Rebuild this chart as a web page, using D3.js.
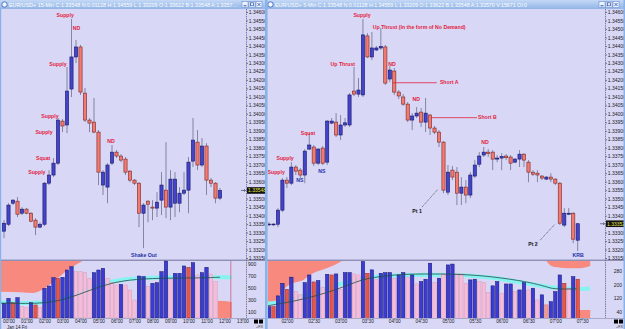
<!DOCTYPE html>
<html>
<head>
<meta charset="utf-8">
<title>EUR/USD 15-Min / 5-Min</title>
<script src="https://cdn.jsdelivr.net/npm/d3@7/dist/d3.min.js"></script>
<style>
  body { margin: 0; background: #d8d8f6; }
  svg { display: block; font-family: "Liberation Sans", Arial, sans-serif; }
</style>
</head>
<body>
<div id="chart"></div>
<script>
// ---------- fenêtre gauche : EUR/USD+ 15 min ----------
var leftTitle = "EUR/USD+ 15-Min C:1.33548 N:0.01128 H:1.34559 L:1.33209 O:1.33622 B:1.33548 A:1.3357...";
var leftOpen = [1.33308, 1.33349, 1.33473, 1.33485, 1.33414, 1.33438, 1.33414, 1.33373, 1.33332, 1.33349,
  1.33591, 1.33639, 1.33709, 1.33957, 1.33934, 1.34146, 1.34335, 1.34394, 1.34122, 1.33963,
  1.33951, 1.33892, 1.33580, 1.33568, 1.33709, 1.33774, 1.33751, 1.33733, 1.33662, 1.33609,
  1.33591, 1.33414, 1.33485, 1.33450, 1.33444, 1.33491, 1.33550, 1.33450, 1.33473, 1.33473,
  1.33532, 1.33550, 1.33721, 1.33833, 1.33698, 1.33810, 1.33609, 1.33591, 1.33503];
var leftHigh = [1.33373, 1.33473, 1.33497, 1.33509, 1.33450, 1.33444, 1.33420, 1.33385, 1.33361, 1.33597,
  1.33668, 1.33739, 1.33975, 1.33969, 1.34276, 1.34559, 1.34435, 1.34406, 1.34152, 1.33975,
  1.34093, 1.33904, 1.33668, 1.33709, 1.33816, 1.33786, 1.33762, 1.33745, 1.33668, 1.33615,
  1.33597, 1.33473, 1.33491, 1.33491, 1.33538, 1.33656, 1.33833, 1.33668, 1.33656, 1.33568,
  1.33656, 1.33745, 1.33975, 1.33904, 1.33857, 1.33827, 1.33621, 1.33597, 1.33562];
var leftLow = [1.33267, 1.33338, 1.33462, 1.33391, 1.33403, 1.33408, 1.33361, 1.33285, 1.33326, 1.33338,
  1.33580, 1.33627, 1.33698, 1.33892, 1.33886, 1.34099, 1.34299, 1.34111, 1.33951, 1.33892,
  1.33886, 1.33580, 1.33521, 1.33473, 1.33698, 1.33739, 1.33715, 1.33639, 1.33597, 1.33580,
  1.33332, 1.33208, 1.33361, 1.33373, 1.33391, 1.33403, 1.33385, 1.33373, 1.33391, 1.33420,
  1.33521, 1.33414, 1.33686, 1.33668, 1.33686, 1.33521, 1.33568, 1.33473, 1.33491];
var leftClose = [1.33355, 1.33462, 1.33491, 1.33408, 1.33438, 1.33414, 1.33367, 1.33332, 1.33349, 1.33591,
  1.33639, 1.33709, 1.33963, 1.33928, 1.34134, 1.34335, 1.34394, 1.34128, 1.33963, 1.33945,
  1.33892, 1.33656, 1.33656, 1.33698, 1.33774, 1.33751, 1.33727, 1.33656, 1.33609, 1.33591,
  1.33414, 1.33462, 1.33467, 1.33444, 1.33479, 1.33580, 1.33450, 1.33615, 1.33615, 1.33532,
  1.33550, 1.33715, 1.33845, 1.33698, 1.33810, 1.33609, 1.33591, 1.33503, 1.33548];
var leftVol = [245, 328, 255, 338, 188, 178, 255, 217, 178, 495, 533, 672, 661, 678, 800, 855,
  772, 772, 755, 661, 755, 800, 828, 661, 588, 550, 561, 550, 467, 300, 700, 689,
  522, 578, 588, 772, 950, 645, 745, 745, 867, 845, 922, 717, 755, 845, 733, 605];
// b = bleu (hausse), p = rose, r = rouge
var leftVolType = ("bbrbppbrpb" + "bbrbbbpppp" + "bbbpppbppp" + "bbpbbbbpbb" + "brbpbbpp").split("");
var leftVolTicks = [100, 300, 500, 700, 900];
var leftTimeLabels = ["00:00", "01:00", "02:00", "03:00", "04:00", "05:00", "06:00",
  "07:00", "08:00", "09:00", "10:00", "11:00", "12:00", "13:00"];
// indicateurs du panneau volume : [barre, valeur]
var leftSalmonTop = [[-1.5, 440], [3.6, 430], [6.5, 418], [8.7, 478], [11, 605], [14, 790], [17.4, 950]];
var leftSalmonLow = [[47.5, 288], [49, 282], [50.6, 268]];
var leftCyan = [[-1.5, 258], [4, 252], [8.7, 245], [14, 340], [19, 480], [23.7, 620], [29, 665], [37, 680], [44, 685], [50.6, 678]];
var leftAvg = [[-1.5, 250], [8.7, 233], [14, 316], [19.2, 467], [23.7, 583], [29, 650], [37, 667], [44, 667], [48, 680]];
var leftNotes = [
  { t: "Supply", i: 13.6, p: 1.34582, c: "r" },
  { t: "ND", i: 16.1, p: 1.34506, c: "r" },
  { t: "Supply", i: 12.0, p: 1.34294, c: "r" },
  { t: "Supply", i: 10.2, p: 1.33987, c: "r" },
  { t: "Supply", i: 8.9, p: 1.33892, c: "r" },
  { t: "Squat", i: 8.7, p: 1.33739, c: "r" },
  { t: "Supply", i: 7.3, p: 1.33656, c: "r" },
  { t: "ND", i: 23.8, p: 1.33839, c: "r" },
  { t: "Shake Out", i: 31.1, p: 1.33167, c: "b" }
];

// ---------- fenêtre droite : EUR/USD+ 5 min ----------
var rightTitle = "EUR/USD+ 5-Min C:1.33548 N:0.01128 H:1.34559 L:1.33209 O:1.33622 B:1.33548 A:1.33570 V:15671 OI:0";
var rightOpen = [1.33349, 1.33349, 1.33349, 1.33432, 1.33609, 1.33591, 1.33686, 1.33668, 1.33639, 1.33792,
  1.33804, 1.33709, 1.33798, 1.33715, 1.33945, 1.33951, 1.33875, 1.33934, 1.33934, 1.34134,
  1.34116, 1.34111, 1.34459, 1.34335, 1.34376, 1.34388, 1.34394, 1.34205, 1.34252, 1.34128,
  1.34099, 1.34057, 1.33963, 1.33987, 1.34010, 1.33951, 1.33993, 1.33916, 1.33892, 1.33833,
  1.33538, 1.33668, 1.33656, 1.33532, 1.33568, 1.33521, 1.33633, 1.33703, 1.33757, 1.33774,
  1.33774, 1.33733, 1.33739, 1.33751, 1.33745, 1.33715, 1.33733, 1.33762, 1.33715, 1.33656,
  1.33650, 1.33633, 1.33615, 1.33627, 1.33615, 1.33591, 1.33344, 1.33408, 1.33414, 1.33255];
var rightHigh = [1.33361, 1.33355, 1.33444, 1.33621, 1.33627, 1.33715, 1.33698, 1.33680, 1.33792, 1.33886,
  1.33816, 1.33798, 1.33810, 1.33963, 1.33975, 1.34004, 1.33993, 1.33975, 1.34122, 1.34276,
  1.34211, 1.34559, 1.34476, 1.34482, 1.34400, 1.34506, 1.34406, 1.34282, 1.34270, 1.34140,
  1.34116, 1.34069, 1.34004, 1.34040, 1.34034, 1.34093, 1.33998, 1.33928, 1.33904, 1.33839,
  1.33698, 1.33692, 1.33686, 1.33627, 1.33609, 1.33656, 1.33727, 1.33774, 1.33804, 1.33792,
  1.33786, 1.33757, 1.33768, 1.33762, 1.33757, 1.33739, 1.33786, 1.33768, 1.33727, 1.33668,
  1.33668, 1.33639, 1.33633, 1.33650, 1.33621, 1.33597, 1.33444, 1.33444, 1.33420, 1.33355];
var rightLow = [1.33338, 1.33338, 1.33332, 1.33420, 1.33562, 1.33580, 1.33639, 1.33621, 1.33591, 1.33786,
  1.33692, 1.33698, 1.33698, 1.33698, 1.33939, 1.33863, 1.33845, 1.33922, 1.33922, 1.34105,
  1.34099, 1.34099, 1.34329, 1.34317, 1.34370, 1.34376, 1.34170, 1.34187, 1.34111, 1.34087,
  1.34046, 1.33951, 1.33904, 1.33975, 1.33922, 1.33892, 1.33875, 1.33880, 1.33804, 1.33532,
  1.33521, 1.33609, 1.33462, 1.33462, 1.33473, 1.33503, 1.33621, 1.33686, 1.33745, 1.33745,
  1.33668, 1.33715, 1.33668, 1.33727, 1.33668, 1.33709, 1.33686, 1.33686, 1.33597, 1.33633,
  1.33597, 1.33609, 1.33609, 1.33597, 1.33580, 1.33344, 1.33332, 1.33403, 1.33237, 1.33190];
var rightClose = [1.33350, 1.33350, 1.33432, 1.33609, 1.33591, 1.33686, 1.33662, 1.33639, 1.33780, 1.33816,
  1.33709, 1.33792, 1.33709, 1.33957, 1.33957, 1.33875, 1.33934, 1.33947, 1.34111, 1.34116,
  1.34140, 1.34465, 1.34335, 1.34388, 1.34388, 1.34396, 1.34181, 1.34258, 1.34128, 1.34105,
  1.34057, 1.33963, 1.33987, 1.34004, 1.33951, 1.34004, 1.33916, 1.33892, 1.33833, 1.33550,
  1.33656, 1.33627, 1.33532, 1.33568, 1.33521, 1.33639, 1.33698, 1.33751, 1.33774, 1.33765,
  1.33733, 1.33739, 1.33748, 1.33741, 1.33709, 1.33733, 1.33762, 1.33727, 1.33656, 1.33644,
  1.33639, 1.33621, 1.33627, 1.33615, 1.33591, 1.33355, 1.33414, 1.33414, 1.33261, 1.33352];
var rightVol = [70, 70, 133, 207, 172, 243, 158, 139, 211, 256, 215, 223, 184, 260, 256, 262, 172, 270,
  270, 262, 256, 335, 266, 286, 231, 266, 270, 270, 237, 256, 270, 243, 256, 203, 217, 231,
  325, 211, 237, 262, 315, 320, 262, 262, 207, 227, 231, 217, 211, 152, 192, 217, 149, 203,
  203, 158, 168, 211, 168, 178, 109, 139, 80, 99, 158, 256, 207, 178, 246, 231];
// s = saumon
var rightVolType = ("brbbrbppbb" + "rbpbrbpbbp" + "pbrbpbbbpb" + "bpbpbbbpbp" +
  "bbpppbbppp" + "bbpbbpbbpb" + "pbsbbbrpbr").split("");
var rightVolTicks = [40, 120, 200, 280];
var rightTimeLabels = ["02:00", "02:30", "03:00", "03:30", "04:00", "04:30",
  "05:00", "05:30", "06:00", "06:30", "07:00", "07:30"];
var rightSalmonTop = [[-0.5, 88], [1.7, 109], [3.2, 168], [5.4, 208], [7.7, 227], [9.2, 256], [10.7, 276], [12.9, 296], [15.1, 321], [16.3, 338]];
var rightSalmonTop2 = [[62.0, 338], [62.8, 315], [64, 302], [66.5, 296], [69.5, 296], [71.8, 309]];
var rightSalmonLow = [[69.3, 50], [71.8, 50]];
var rightCyan = [[-0.5, 88], [2, 92], [8, 130], [14, 190], [20, 235], [26.3, 256], [44.2, 258], [50.1, 240], [57.6, 208], [63.5, 178], [69.5, 172], [71.8, 178]];
var rightAvg = [[-0.5, 74], [5.4, 99], [12.9, 149], [18.8, 208], [21.8, 237], [27.8, 256], [31.5, 262], [42.7, 262], [50.1, 246], [57.6, 217], [62.1, 187], [63.5, 172], [68.7, 174]];
var rightNotes = [
  { t: "Supply", i: 20.8, p: 1.34582, c: "r" },
  { t: "Up Thrust (In the form of No Demand)", i: 23.2, p: 1.34512, c: "r", a: "start" },
  { t: "Up Thrust", i: 16.5, p: 1.34294, c: "r" },
  { t: "ND", i: 27.5, p: 1.34294, c: "r" },
  { t: "Short A", i: 38.2, p: 1.34187, c: "r", a: "start" },
  { t: "ND", i: 32.9, p: 1.34087, c: "r" },
  { t: "Short B", i: 46.7, p: 1.33981, c: "r", a: "start" },
  { t: "Squat", i: 8.7, p: 1.33886, c: "r" },
  { t: "Supply", i: 3.6, p: 1.33739, c: "r" },
  { t: "Supply", i: 1.6, p: 1.33656, c: "r" },
  { t: "NS", i: 6.9, p: 1.33609, c: "b" },
  { t: "NS", i: 11.8, p: 1.33662, c: "b" },
  { t: "ND", i: 48.3, p: 1.33833, c: "r" },
  { t: "Pt 1", i: 33.1, p: 1.33427, c: "k" },
  { t: "Pt 2", i: 59.0, p: 1.33232, c: "k" },
  { t: "KRB", i: 69.1, p: 1.33167, c: "b" }
];
// lignes Short A / Short B et pointillés Pt 1 / Pt 2
var rightLevels = [{ i0: 27.7, i1: 37.5, p: 1.34183 }, { i0: 36.2, i1: 46.5, p: 1.33977 }];
var rightPointers = [{ i0: 34.2, p0: 1.3345, i1: 37.8, p1: 1.33556 }, { i0: 60.6, p0: 1.33255, i1: 63.9, p1: 1.33349 }];

// ---------- couleurs ----------
var bg = "#d8d8f6";
var upFill = "#4444ca", upLine = "#16166a";
var dnFill = "#f27a70", dnLine = "#7a2626";
var wickCol = "#6e6e8e";
var volFill = { b: "#3c3cd2", p: "#f6bcd9", r: "#e8564a", s: "#f39a90" };
var volLine = { b: "#141470", p: "#d69cba", r: "#9a2a2a", s: "#d07474" };
var salmon = "#f7897f", cyan = "#86f3f0", avgCol = "#244a4a";
var noteCol = { r: "#e3203e", b: "#2430a8", k: "#101018" };

var svg = d3.select("#chart").append("svg").attr("width", 625).attr("height", 329);

var grad = svg.append("defs").append("linearGradient").attr("id", "titleGrad")
  .attr("x1", 0).attr("y1", 0).attr("x2", 0).attr("y2", 1);
grad.append("stop").attr("offset", "0%").attr("stop-color", "#c4d9f6");
grad.append("stop").attr("offset", "100%").attr("stop-color", "#92b4e6");

var yPrice = d3.scaleLinear().domain([1.3315, 1.346]).range([258, 12]);
var priceTicks = d3.range(0, 30).map(function (k) { return 1.3315 + k * 0.0005; });
var fmtPrice = d3.format(".5f");

var windows = [
  {
    id: "l", x0: 0, x1: 265, plotX0: 1, plotX1: 246, axisX: 246, title: leftTitle, titleLen: 228, btnX: 242,
    x: d3.scaleLinear().domain([0, 48]).range([4, 220]),
    o: leftOpen, h: leftHigh, l: leftLow, c: leftClose,
    vol: leftVol, volType: leftVolType, volTicks: leftVolTicks, volAnchor: "start", volDx: 2,
    volY: d3.scaleLinear().domain([0, 950]).range([318, 261]),
    timeLabels: leftTimeLabels, timeIdx: leftTimeLabels.map(function (d, k) { return 1 + 4 * k; }),
    salmonTop: [leftSalmonTop], salmonLow: leftSalmonLow, cyan: leftCyan, avg: leftAvg,
    notes: leftNotes, levels: [], pointers: [], last: 1.33548, marker: 50.4, date: "Jan 14 Fri"
  },
  {
    id: "r", x0: 266, x1: 625, plotX0: 268, plotX1: 605, axisX: 605, title: rightTitle, titleLen: 252, btnX: 599,
    x: d3.scaleLinear().domain([0, 69]).range([269, 577.7]),
    o: rightOpen, h: rightHigh, l: rightLow, c: rightClose,
    vol: rightVol, volType: rightVolType, volTicks: rightVolTicks, volAnchor: "end", volDx: 17,
    volY: d3.scaleLinear().domain([0, 338]).range([318.5, 261]),
    timeLabels: rightTimeLabels, timeIdx: rightTimeLabels.map(function (d, k) { return 4 + 6 * k; }),
    salmonTop: [rightSalmonTop, rightSalmonTop2], salmonLow: rightSalmonLow, cyan: rightCyan, avg: rightAvg,
    notes: rightNotes, levels: rightLevels, pointers: rightPointers, last: 1.33352, marker: null, date: null
  }
];

windows.forEach(function (w) {
  var g = svg.append("g");
  var x = w.x, vy = w.volY;

  // fond
  g.append("rect").attr("x", w.x0).attr("y", 0).attr("width", w.x1 - w.x0).attr("height", 329).attr("fill", bg);

  // barre de titre
  g.append("rect").attr("x", w.x0).attr("y", 0).attr("width", w.x1 - w.x0).attr("height", 9).attr("fill", "url(#titleGrad)");
  g.append("circle").attr("cx", w.x0 + 4.5).attr("cy", 4.5).attr("r", 2.7)
    .attr("fill", "#f4f8ff").attr("stroke", "#3a64b8").attr("stroke-width", 0.9);
  g.append("text").attr("x", w.x0 + 9).attr("y", 6.7).attr("font-size", 5.2).attr("fill", "#ffffff")
    .attr("textLength", w.titleLen).attr("lengthAdjust", "spacingAndGlyphs").text(w.title);
  [0, 1, 2].forEach(function (k) {
    var bx = w.btnX + k * 7;
    g.append("rect").attr("x", bx).attr("y", 1.5).attr("width", 6).attr("height", 6)
      .attr("fill", "#eaf2fe").attr("stroke", "#5a80c8").attr("stroke-width", 0.5);
    if (k == 0) g.append("line").attr("x1", bx + 1.5).attr("x2", bx + 4.5).attr("y1", 5.8).attr("y2", 5.8).attr("stroke", "#3050a0").attr("stroke-width", 1);
    if (k == 1) g.append("rect").attr("x", bx + 1.5).attr("y", 2.8).attr("width", 3).attr("height", 3).attr("fill", "none").attr("stroke", "#3050a0").attr("stroke-width", 0.7);
    if (k == 2) g.append("path").attr("d", "M" + (bx + 1.5) + ",3 l3,3 M" + (bx + 4.5) + ",3 l-3,3").attr("stroke", "#3050a0").attr("stroke-width", 0.8);
  });

  // zone de tracé (clip)
  var clipId = "clip-" + w.id;
  svg.append("clipPath").attr("id", clipId).append("rect")
    .attr("x", w.plotX0).attr("y", 9).attr("width", w.plotX1 - w.plotX0).attr("height", 309);
  var plot = g.append("g").attr("clip-path", "url(#" + clipId + ")");

  // ---- panneau volume ----
  var topY = vy.range()[1];
  w.salmonTop.forEach(function (pts) {
    plot.append("path")
      .attr("d", d3.area().x(function (d) { return x(d[0]); }).y0(topY).y1(function (d) { return vy(d[1]); }).curve(d3.curveMonotoneX)(pts))
      .attr("fill", salmon);
  });
  plot.append("path")
    .attr("d", d3.area().x(function (d) { return x(d[0]); }).y0(vy(0)).y1(function (d) { return vy(d[1]); }).curve(d3.curveMonotoneX)(w.salmonLow))
    .attr("fill", salmon);
  plot.append("path")
    .attr("d", d3.line().x(function (d) { return x(d[0]); }).y(function (d) { return vy(d[1]); }).curve(d3.curveBasis)(w.cyan))
    .attr("fill", "none").attr("stroke", cyan).attr("stroke-width", 4);

  plot.selectAll(".vol").data(w.vol).enter().append("rect")
    .attr("x", function (d, i) { return x(i) - 1.7; })
    .attr("width", 3.4)
    .attr("y", function (d) { return vy(d); })
    .attr("height", function (d) { return vy(0) - vy(d); })
    .attr("fill", function (d, i) { return volFill[w.volType[i]]; })
    .attr("stroke", function (d, i) { return volLine[w.volType[i]]; })
    .attr("stroke-width", 0.5);

  plot.append("path")
    .attr("d", d3.line().x(function (d) { return x(d[0]); }).y(function (d) { return vy(d[1]); }).curve(d3.curveBasis)(w.avg))
    .attr("fill", "none").attr("stroke", avgCol).attr("stroke-width", 0.8);

  if (w.marker != null) {
    plot.append("line").attr("x1", x(w.marker)).attr("x2", x(w.marker)).attr("y1", 261).attr("y2", 318)
      .attr("stroke", "#c0506a").attr("stroke-width", 0.7);
  }

  // ---- bougies ----
  var idx = d3.range(w.o.length);
  plot.selectAll(".wick").data(idx).enter().append("line")
    .attr("x1", function (i) { return x(i); }).attr("x2", function (i) { return x(i); })
    .attr("y1", function (i) { return yPrice(w.h[i]); }).attr("y2", function (i) { return yPrice(w.l[i]); })
    .attr("stroke", wickCol).attr("stroke-width", 0.8);
  plot.selectAll(".body").data(idx).enter().append("rect")
    .attr("x", function (i) { return x(i) - 1.6; })
    .attr("width", 3.2)
    .attr("y", function (i) { return yPrice(Math.max(w.o[i], w.c[i])); })
    .attr("height", function (i) { return Math.max(0.8, Math.abs(yPrice(w.o[i]) - yPrice(w.c[i]))); })
    .attr("fill", function (i) { return w.c[i] >= w.o[i] ? upFill : dnFill; })
    .attr("stroke", function (i) { return w.c[i] >= w.o[i] ? upLine : dnLine; })
    .attr("stroke-width", 0.6);

  // lignes d'annotation
  w.levels.forEach(function (lv) {
    plot.append("line").attr("x1", x(lv.i0)).attr("x2", x(lv.i1)).attr("y1", yPrice(lv.p)).attr("y2", yPrice(lv.p))
      .attr("stroke", noteCol.r).attr("stroke-width", 0.8);
  });
  w.pointers.forEach(function (pt) {
    plot.append("line").attr("x1", x(pt.i0)).attr("x2", x(pt.i1)).attr("y1", yPrice(pt.p0)).attr("y2", yPrice(pt.p1))
      .attr("stroke", "#202030").attr("stroke-width", 0.6).attr("stroke-dasharray", "1.2,0.8");
  });

  // textes d'annotation
  plot.selectAll(".note").data(w.notes).enter().append("text")
    .attr("x", function (d) { return x(d.i); })
    .attr("y", function (d) { return yPrice(d.p) + 1.8; })
    .attr("text-anchor", function (d) { return d.a || "middle"; })
    .attr("font-size", 5.2).attr("font-weight", "bold")
    .attr("fill", function (d) { return noteCol[d.c]; })
    .text(function (d) { return d.t; });

  // séparateurs
  g.append("line").attr("x1", w.x0).attr("x2", w.x1).attr("y1", 260.2).attr("y2", 260.2).attr("stroke", "#62628e").attr("stroke-width", 0.9);
  g.append("line").attr("x1", w.x0).attr("x2", w.x1).attr("y1", 318.5).attr("y2", 318.5).attr("stroke", "#8a8ab0").attr("stroke-width", 0.6);
  g.append("line").attr("x1", w.axisX + 0.5).attr("x2", w.axisX + 0.5).attr("y1", 9).attr("y2", 318)
    .attr("stroke", "#55557a").attr("stroke-width", 0.7).attr("stroke-dasharray", "1.5,0.8");

  // axe des prix
  var pAxis = g.append("g").attr("transform", "translate(" + (w.axisX + 0.5) + ",0)")
    .call(d3.axisRight(yPrice).tickValues(priceTicks).tickFormat(fmtPrice).tickSize(1.5).tickPadding(0.8));
  pAxis.select(".domain").remove();
  pAxis.selectAll("line").attr("stroke", "#303050").attr("stroke-width", 0.6);
  pAxis.selectAll("text").attr("font-size", 5).attr("font-family", "Liberation Sans, Arial, sans-serif").attr("fill", "#1a1a2a");

  // axe des volumes
  var vAxis = g.append("g").attr("transform", "translate(" + w.axisX + ",0)")
    .call(d3.axisRight(vy).tickValues(w.volTicks).tickSize(0).tickPadding(w.volDx));
  vAxis.select(".domain").remove();
  vAxis.selectAll("text").attr("font-size", 5).attr("font-family", "Liberation Sans, Arial, sans-serif")
    .attr("fill", "#1a1a2a").attr("text-anchor", w.volAnchor);

  // axe du temps
  var tAxis = g.append("g").attr("transform", "translate(0,318.5)")
    .call(d3.axisBottom(x).tickValues(w.timeIdx).tickFormat(function (d, k) { return w.timeLabels[k]; }).tickSize(1.5).tickPadding(0));
  tAxis.select(".domain").remove();
  tAxis.selectAll("line").attr("stroke", "#303050").attr("stroke-width", 0.6);
  tAxis.selectAll("text").attr("font-size", 4.8).attr("font-family", "Liberation Sans, Arial, sans-serif").attr("fill", "#1a1a2a");
  if (w.date) {
    g.append("text").attr("x", x(w.timeIdx[0]) - 1.5).attr("y", 328.7).attr("font-size", 4.5).attr("fill", "#1a1a2a").text(w.date);
  }

  // étiquette du dernier prix
  var ly = yPrice(w.last);
  g.append("path").attr("d", "M" + (w.axisX - 5) + "," + ly + " h4.5 m-1.5,-1.3 l1.5,1.3 l-1.5,1.3")
    .attr("fill", "none").attr("stroke", "#303050").attr("stroke-width", 0.6);
  g.append("rect").attr("x", w.axisX + 1).attr("y", ly - 3.3).attr("width", 18.5).attr("height", 6.6).attr("fill", "#111111");
  g.append("text").attr("x", w.axisX + 2).attr("y", ly + 1.8).attr("font-size", 5).attr("fill", "#e8e84a").text(fmtPrice(w.last));

  // petits carrés noirs et "+FX" en bas à droite
  g.append("rect").attr("x", w.x1 - 11).attr("y", 319.5).attr("width", 4).attr("height", 4).attr("fill", "#000");
  g.append("rect").attr("x", w.x1 - 6).attr("y", 319.5).attr("width", 4).attr("height", 4).attr("fill", "#000");
  g.append("text").attr("x", w.x1 - 2).attr("y", 328.3).attr("text-anchor", "end").attr("font-size", 3.8).attr("fill", "#333").text("+FX");
});

// cadres des fenêtres
svg.append("rect").attr("x", 0).attr("y", 9).attr("width", 1.2).attr("height", 320).attr("fill", "#86b4ea");
svg.append("rect").attr("x", 265).attr("y", 0).attr("width", 2.6).attr("height", 329).attr("fill", "#86b4ea");
svg.append("rect").attr("x", 623.5).attr("y", 0).attr("width", 1.5).attr("height", 329).attr("fill", "#86b4ea");
</script>
</body>
</html>
